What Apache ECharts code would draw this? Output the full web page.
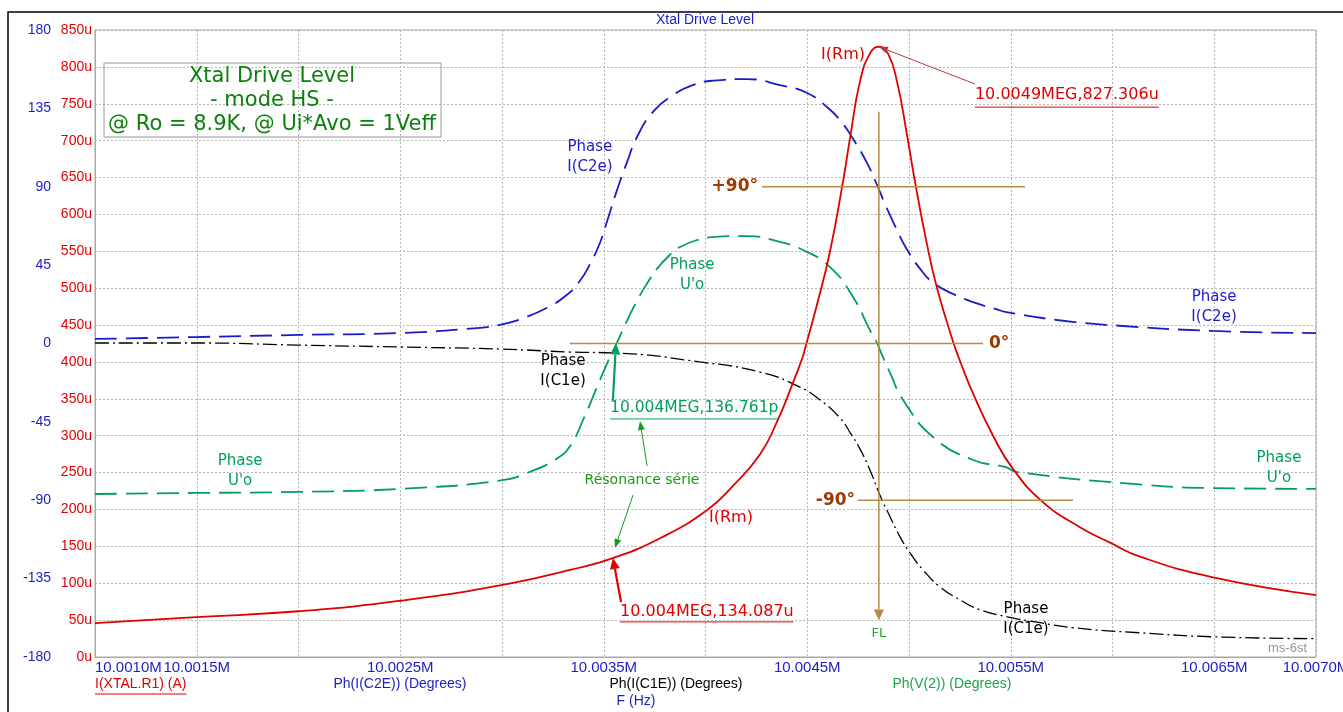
<!DOCTYPE html>
<html><head><meta charset="utf-8">
<script src="https://cdn.jsdelivr.net/npm/echarts@6/dist/echarts.min.js"></script>
<style>html,body{margin:0;padding:0;background:#fff;} #c{width:1343px;height:712px;}</style>
</head><body><div id="c"></div>
<script>
// ---------------- data (frequency in Hz) ----------------
const rmFreq = [10001000,10001496,10001998,10002494,10002990,10003334,10003545,10003776,10004007,10004135,10004268,10004350,10004430,10004474,10004499,10004548,10004612,10004676,10004710,10004759,10004808,10004852,10004897,10004941,10004990,10005029,10005088,10005138,10005216,10005251,10005315,10005413,10005511,10005658,10005840,10005988,10006135,10006494,10007000];
const rmCurrent = [46,54,62,76,97,118,134,161,199,232,275,318,372,404,428,478,550,645,703,780,818,827.3,818,780,708,645,560,500,428,401,357,300,255,210,176,155,136,108,84];

const c2eFreq = [10001000,10001496,10001998,10002494,10002892,10003000,10003103,10003221,10003319,10003383,10003432,10003482,10003516,10003565,10003614,10003663,10003742,10003840,10003939,10004037,10004204,10004366,10004499,10004597,10004661,10004725,10004794,10004843,10004892,10004941,10004990,10005054,10005118,10005216,10005334,10005432,10005472,10005727,10005988,10006494,10007000];
const c2ePhase = [2.6,3.7,4.9,6.0,9.0,11.0,14.5,20.5,28.0,36.0,45.5,58.0,70.0,88.0,104.0,118.5,133.0,142.6,148.4,150.9,151.8,148.4,143.8,135.8,128.3,117.5,103.6,91.0,77.5,65.1,54.0,43.0,35.0,28.5,23.0,19.6,18.2,13.5,10.6,7.2,6.0];

const uoFreq = [10001000,10001496,10001998,10002494,10003000,10003152,10003270,10003334,10003398,10003467,10003516,10003565,10003614,10003663,10003713,10003762,10003826,10003875,10003958,10004037,10004204,10004366,10004479,10004612,10004725,10004808,10004843,10004857,10004907,10004971,10005118,10005315,10005472,10005531,10006101,10006494,10007000];
const uoPhase = [-86.4,-85.8,-85.2,-83.5,-78.5,-73.0,-66.0,-59.0,-44.0,-25.0,-11.5,0.5,13.0,24.5,34.5,43.0,51.0,55.4,59.4,61.1,61.7,58.3,53.7,43.9,26.7,7.7,0.3,-3.7,-16.9,-32.4,-53.7,-66.9,-70.9,-73.8,-80.6,-83.0,-83.5];

const c1eFreq = [10001000,10001496,10001998,10002494,10003000,10003334,10003565,10003973,10004268,10004464,10004563,10004661,10004710,10004759,10004808,10004857,10004907,10004956,10005005,10005069,10005152,10005251,10005349,10005482,10005644,10005806,10006135,10006494,10007000];
const c1ePhase = [0.3,0.3,-0.9,-2.0,-3.2,-4.9,-5.5,-10.6,-16.4,-25.0,-32.4,-42.8,-51.0,-60.5,-72.6,-87.0,-99.5,-111.0,-120.2,-130.0,-139.7,-147.2,-152.9,-156.9,-160.3,-163.2,-166.1,-168.4,-169.5];

const xLabelTicks = [10001000,10001500,10002500,10003500,10004500,10005500,10006500,10007000];
const peakMarker = [10004852, 827.306];
const resCurrentMarker = [10003545, 134.087];
const resPhaseMarker = [10003560, 0];
const flFreq = 10004852;

// ---------------- chart ----------------
const BLUE = '#1c1cc4', RED = '#e00000', GREEN = '#00a05a', GOLD = '#b58c45', BROWN = '#9c3a00', TBOX = '#0a820a';
const chart = echarts.init(document.getElementById('c'));
const zip = (a, b) => a.map((v, i) => [v, b[i]]);
const gridLine = {show: true, lineStyle: {color: '#b4b4b4', type: [2, 2], width: 1}};
const SM = 0.5;

chart.setOption({
  animation: false,
  backgroundColor: '#fff',
  grid: {left: 95, right: 27, top: 30, bottom: 55, show: true, borderColor: '#a8a8a8', borderWidth: 1, containLabel: false, outerBoundsMode: 'none'},
  xAxis: {
    type: 'value', min: 10001000, max: 10007000, interval: 500,
    axisLine: {show: true, lineStyle: {color: '#a8a8a8'}}, axisTick: {show: false}, splitLine: gridLine,
    axisLabel: {color: BLUE, fontSize: 15, fontFamily: 'Liberation Sans', margin: 3, showMinLabel: true, showMaxLabel: true, alignMinLabel: 'left', hideOverlap: false,
      formatter: v => xLabelTicks.includes(v) ? (v / 1e6).toFixed(4) + 'M' : ''}
  },
  yAxis: [
    {type: 'value', min: 0, max: 850, interval: 50, position: 'left',
     axisLine: {show: true, lineStyle: {color: '#a8a8a8'}}, axisTick: {show: false}, splitLine: gridLine,
     axisLabel: {color: RED, fontSize: 14, fontFamily: 'Liberation Sans', margin: 3, formatter: v => v + 'u'}},
    {type: 'value', min: -180, max: 180, interval: 45, position: 'left', offset: 40,
     axisLine: {show: false}, axisTick: {show: false}, splitLine: {show: false},
     axisLabel: {color: BLUE, fontSize: 14, fontFamily: 'Liberation Sans', margin: 4}}
  ],
  series: [
    {name: 'Ph(I(C2E))', type: 'line', yAxisIndex: 1, data: zip(c2eFreq, c2ePhase), showSymbol: false, smooth: SM,
     lineStyle: {color: BLUE, width: 1.8, type: [22, 9]}, z: 2},
    {name: 'Ph(V(2))', type: 'line', yAxisIndex: 1, data: zip(uoFreq, uoPhase), showSymbol: false, smooth: SM,
     lineStyle: {color: GREEN, width: 1.8, type: [22, 9]}, z: 2},
    {name: 'Ph(I(C1E))', type: 'line', yAxisIndex: 1, data: zip(c1eFreq, c1ePhase), showSymbol: false, smooth: SM,
     lineStyle: {color: '#000', width: 1.3, type: [14, 4, 2, 4]}, z: 2},
    {name: 'I(XTAL.R1)', type: 'line', yAxisIndex: 0, data: zip(rmFreq, rmCurrent), showSymbol: false, smooth: SM,
     lineStyle: {color: RED, width: 1.8}, z: 3}
  ]
});

// ---------------- annotations ----------------
const P = (f, ph) => chart.convertToPixel({xAxisIndex: 0, yAxisIndex: 1}, [f, ph]);
const PA = (f, a) => chart.convertToPixel({xAxisIndex: 0, yAxisIndex: 0}, [f, a]);
const mctx = document.createElement('canvas').getContext('2d');
const tw = (s, font) => { mctx.font = font; return mctx.measureText(s).width; };
const g = [];
function txt(p, s, color, font, align, valign, lh) {
  const st = {text: s, fill: color, font: font, textAlign: align || 'center', align: align || 'center',
    textVerticalAlign: valign || 'middle', verticalAlign: valign || 'middle'};
  if (lh) { st.lineHeight = lh; st.textLineHeight = lh; }
  g.push({type: 'text', x: p[0], y: p[1], z: 20, style: st});
}
function seg(a, b, color, w) {
  g.push({type: 'line', z: 15, shape: {x1: a[0], y1: a[1], x2: b[0], y2: b[1]}, style: {stroke: color, lineWidth: w}});
}
function arrow(t, h, color, w, len, half) {
  const dx = h[0] - t[0], dy = h[1] - t[1], L = Math.hypot(dx, dy), ux = dx / L, uy = dy / L;
  const bx = h[0] - ux * len, by = h[1] - uy * len;
  seg(t, [bx, by], color, w);
  g.push({type: 'polygon', z: 15, shape: {points: [[h[0], h[1]], [bx - uy * half, by + ux * half], [bx + uy * half, by - ux * half]]}, style: {fill: color}});
}
function utxt(p, s, color, font, dy) {
  txt(p, s, color, font, 'left', 'middle');
  const w = tw(s, font);
  seg([p[0], p[1] + dy], [p[0] + w, p[1] + dy], color, 1);
}
const AF = 'DejaVu Sans';

// outer frame
g.push({type: 'rect', z: 1, shape: {x: 8, y: 12, width: 1400, height: 800}, style: {fill: 'none', stroke: '#000', lineWidth: 1.5}});
// title
txt([705, 20], 'Xtal Drive Level', BLUE, '14px Liberation Sans');
// title box
g.push({type: 'rect', z: 12, shape: {x: 104, y: 63, width: 337, height: 74}, style: {fill: 'none', stroke: '#9a9a9a', lineWidth: 1}});
txt([272, 77], 'Xtal Drive Level', TBOX, '21px ' + AF);
txt([272, 101], '- mode HS -', TBOX, '21px ' + AF);
txt([272, 125], '@ Ro = 8.9K, @ Ui*Avo = 1Veff', TBOX, '21px ' + AF);

// bottom axis captions
const capF = '14px Liberation Sans';
txt([95, 684], 'I(XTAL.R1) (A)', RED, capF, 'left');
seg([95, 694], [95 + tw('I(XTAL.R1) (A)', capF), 694], RED, 1);
txt([400, 684], 'Ph(I(C2E)) (Degrees)', BLUE, capF);
txt([676, 684], 'Ph(I(C1E)) (Degrees)', '#000', capF);
txt([636, 701], 'F (Hz)', BLUE, capF);
txt([952, 684], 'Ph(V(2)) (Degrees)', '#1aa64a', capF);
txt([1307, 648], 'ms-6st', '#959595', '13px Liberation Sans', 'right');

// reference lines (phase axis)
seg(P(10004278, 90), P(10005570, 90), GOLD, 1.5);
seg(P(10003334, 0), P(10005364, 0), GOLD, 1.5);
seg(P(10004749, -90), P(10005806, -90), GOLD, 1.5);
arrow(P(flFreq, 133), P(flFreq, -159), GOLD, 1.5, 11, 5);
txt(P(10004258, 90), '+90°', BROWN, 'bold 17px ' + AF, 'right');
txt(P(10005393, 0), '0°', BROWN, 'bold 17px ' + AF, 'left');
txt(P(10004735, -90), '-90°', BROWN, 'bold 17px ' + AF, 'right');
txt(P(flFreq, -166.5), 'FL', '#2aa02a', '13px ' + AF);

// curve labels
const lf = '15px ' + AF;
txt(P(10003432, 107), 'Phase\nI(C2e)', BLUE, lf, 'center', 'middle', 20);
txt(P(10006499, 21), 'Phase\nI(C2e)', BLUE, lf, 'center', 'middle', 20);
txt(P(10003934, 39.3), "Phase\nU'o", GREEN, lf, 'center', 'middle', 20);
txt(P(10001713, -73.2), "Phase\nU'o", GREEN, lf, 'center', 'middle', 20);
txt(P(10006818, -71.5), "Phase\nU'o", GREEN, lf, 'center', 'middle', 20);
txt(P(10003300, -15.8), 'Phase\nI(C1e)', '#000', lf, 'center', 'middle', 20);
txt(P(10005575, -158.1), 'Phase\nI(C1e)', '#000', lf, 'center', 'middle', 20);
txt(P(10004125, -100.2), 'I(Rm)', RED, '16px ' + AF);
txt(P(10004676, 165.6), 'I(Rm)', RED, '16px ' + AF);

// peak marker
const vf = '16px ' + AF;
utxt(P(10005324, 142.6), '10.0049MEG,827.306u', RED, vf, 12);
arrow(P(10005324, 149), PA(peakMarker[0], peakMarker[1]), '#b83a3a', 1, 9, 3.5);
// resonance markers
utxt(P(10003531, -37.0), '10.004MEG,136.761p', GREEN, '15.5px ' + AF, 11);
arrow(P(10003545, -32.5), P(resPhaseMarker[0], resPhaseMarker[1]), GREEN, 2.2, 11, 5);
utxt(P(10003580, -154.1), '10.004MEG,134.087u', RED, vf, 10);
arrow(P(10003585, -148.4), PA(resCurrentMarker[0], resCurrentMarker[1]), RED, 2.2, 11, 5);
txt(P(10003688, -78.4), 'Résonance série', '#1a9a1a', '14px ' + AF);
arrow(P(10003713, -70.3), P(10003678, -44.5), '#1a9a1a', 1, 9, 3.5);
arrow(P(10003644, -87), P(10003555, -117.4), '#1a9a1a', 1, 9, 3.5);

chart.setOption({graphic: {elements: g}});
</script>
</body></html>
